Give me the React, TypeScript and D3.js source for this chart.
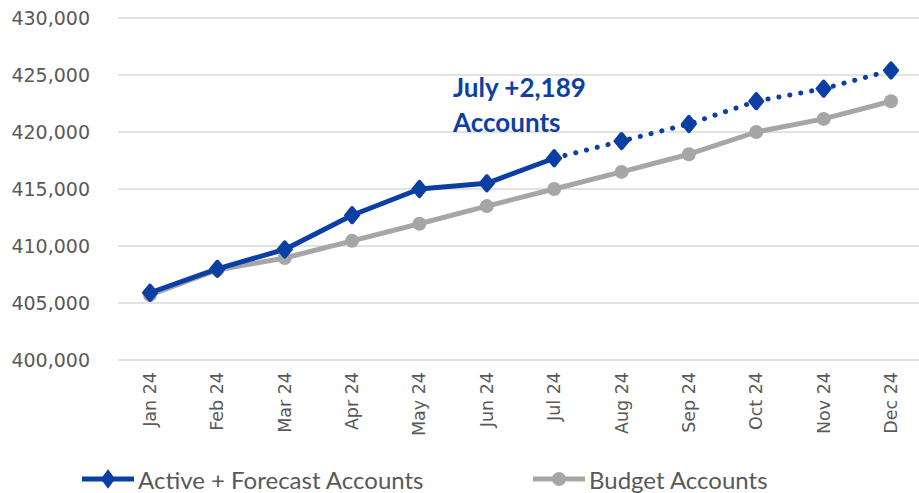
import React, { useEffect, useRef } from 'react';
import * as d3 from 'd3';

const MONTHS = ['Jan 24', 'Feb 24', 'Mar 24', 'Apr 24', 'May 24', 'Jun 24', 'Jul 24', 'Aug 24', 'Sep 24', 'Oct 24', 'Nov 24', 'Dec 24'];
const ACTIVE = [405900, 408000, 409700, 412700, 415000, 415500, 417700, 419200, 420700, 422700, 423800, 425400];
const BUDGET = [405700, 407900, 408950, 410450, 411950, 413500, 415000, 416500, 418050, 420000, 421150, 422700];
const Y_TICKS = [400000, 405000, 410000, 415000, 420000, 425000, 430000];
const ACTUAL_UNTIL = 6; // Jul 24 is the last actual month

const BLUE = '#0B3FA3';
const GREY = '#A6A6A6';

export default function App() {
  const ref = useRef<SVGSVGElement>(null);

  useEffect(() => {
    if (!ref.current) return;
    const svg = d3.select(ref.current);
    svg.selectAll('*').remove();

    const x = d3.scalePoint<string>().domain(MONTHS).range([150, 891]);
    const y = d3.scaleLinear().domain([400000, 430000]).range([360, 18]);
    const fmt = d3.format(',');

    // gridlines + y labels
    const grid = svg.append('g');
    grid.selectAll('line')
      .data(Y_TICKS)
      .join('line')
      .attr('x1', 118).attr('x2', 919)
      .attr('y1', (d) => y(d)).attr('y2', (d) => y(d))
      .attr('stroke', '#D9D9D9').attr('stroke-width', 1.5);
    grid.selectAll('text')
      .data(Y_TICKS)
      .join('text')
      .attr('x', 90).attr('y', (d) => y(d))
      .attr('text-anchor', 'end').attr('dominant-baseline', 'central')
      .attr('font-family', 'DejaVu Sans, sans-serif').attr('font-size', '19px')
      .attr('fill', '#595959')
      .text((d) => fmt(d));

    // x labels rotated
    svg.append('g').selectAll('text')
      .data(MONTHS)
      .join('text')
      .attr('transform', (d) => `translate(${x(d)},372) rotate(-90)`)
      .attr('text-anchor', 'end').attr('dominant-baseline', 'central')
      .attr('font-family', 'DejaVu Sans, sans-serif').attr('font-size', '17.5px')
      .attr('fill', '#595959')
      .text((d) => d);

    const line = d3.line<number>()
      .x((_, i) => x(MONTHS[i]) as number)
      .y((d) => y(d));

    // budget series
    svg.append('path')
      .attr('d', line(BUDGET))
      .attr('fill', 'none').attr('stroke', GREY).attr('stroke-width', 5)
      .attr('stroke-linejoin', 'round');
    svg.append('g').selectAll('circle')
      .data(BUDGET)
      .join('circle')
      .attr('cx', (_, i) => x(MONTHS[i]) as number)
      .attr('cy', (d) => y(d))
      .attr('r', 7)
      .attr('fill', GREY);

    // active series: solid actuals, dotted forecast
    const solidLine = d3.line<[number, number]>()
      .x((d) => x(MONTHS[d[0]]) as number)
      .y((d) => y(d[1]));
    const pts: [number, number][] = ACTIVE.map((v, i) => [i, v]);
    svg.append('path')
      .attr('d', solidLine(pts.slice(0, ACTUAL_UNTIL + 1)))
      .attr('fill', 'none').attr('stroke', BLUE).attr('stroke-width', 5)
      .attr('stroke-linejoin', 'round');
    svg.append('path')
      .attr('d', solidLine(pts.slice(ACTUAL_UNTIL)))
      .attr('fill', 'none').attr('stroke', BLUE).attr('stroke-width', 5)
      .attr('stroke-linecap', 'round').attr('stroke-dasharray', '0.1 11');

    const diamond = d3.symbol().type(d3.symbolDiamond).size(80);
    svg.append('g').selectAll('path')
      .data(ACTIVE)
      .join('path')
      .attr('transform', (d, i) => `translate(${x(MONTHS[i])},${y(d)}) scale(1.35,0.95)`)
      .attr('d', diamond())
      .attr('fill', BLUE)
      .attr('stroke', BLUE).attr('stroke-width', 2.5).attr('stroke-linejoin', 'round');

    // annotation
    const ann = svg.append('text')
      .attr('font-family', 'Lato, sans-serif').attr('font-weight', 700)
      .attr('font-size', '26px').attr('fill', BLUE);
    ann.append('tspan').attr('x', 453).attr('y', 97).text('July +2,189');
    ann.append('tspan').attr('x', 453).attr('y', 132).text('Accounts');

    // legend
    const legend = [
      { label: 'Active + Forecast Accounts', color: BLUE, x0: 82, marker: 'diamond' },
      { label: 'Budget Accounts', color: GREY, x0: 533, marker: 'circle' },
    ];
    const lg = svg.append('g');
    legend.forEach((l) => {
      const g = lg.append('g').attr('transform', `translate(${l.x0},479)`);
      g.append('line').attr('x1', 0).attr('x2', 52).attr('y1', 0).attr('y2', 0)
        .attr('stroke', l.color).attr('stroke-width', 5);
      if (l.marker === 'diamond') {
        g.append('path').attr('d', diamond()).attr('transform', 'translate(26,0) scale(1.2,0.95)')
          .attr('fill', l.color).attr('stroke', l.color).attr('stroke-width', 2);
      } else {
        g.append('circle').attr('cx', 26).attr('cy', 0).attr('r', 7).attr('fill', l.color);
      }
      g.append('text').attr('x', 56).attr('y', 0)
        .attr('dominant-baseline', 'central')
        .attr('font-family', 'Lato, sans-serif').attr('font-size', '24px')
        .attr('fill', '#595959')
        .text(l.label);
    });
  }, []);

  return (
    <svg ref={ref} width={919} height={493} style={{ position: 'absolute', left: 0, top: 0, background: '#fff' }} />
  );
}
